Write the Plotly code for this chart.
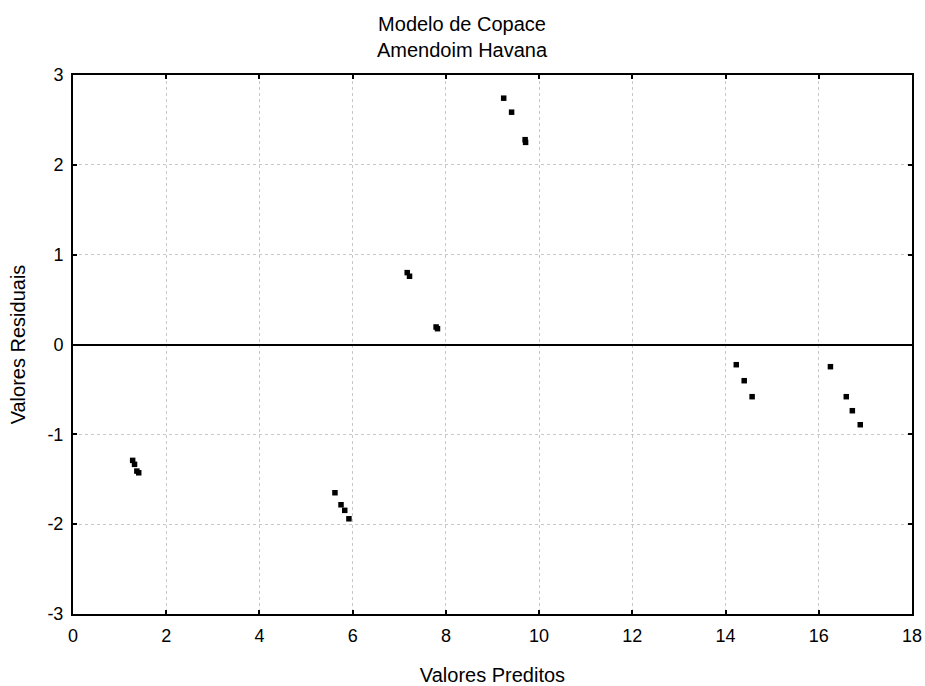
import plotly.graph_objects as go

# Predicted values (x) and residuals (y)
predicted = [1.28, 1.32, 1.37, 1.41,
             5.62, 5.75, 5.83, 5.92,
             7.17, 7.22, 7.79, 7.82,
             9.24, 9.41, 9.70, 9.71,
             14.23, 14.40, 14.57,
             16.25, 16.59, 16.72, 16.89]
residuals = [-1.29, -1.334, -1.409, -1.428,
             -1.65, -1.784, -1.846, -1.94,
             0.80, 0.76, 0.195, 0.176,
             2.742, 2.586, 2.28, 2.25,
             -0.225, -0.403, -0.581,
             -0.247, -0.581, -0.737, -0.893]

x_ticks = [0, 2, 4, 6, 8, 10, 12, 14, 16, 18]
y_ticks = [-3, -2, -1, 0, 1, 2, 3]

title_lines = ["Modelo de Copace", "Amendoim Havana"]
x_title = "Valores Preditos"
y_title = "Valores Residuais"

FONT = "Liberation Sans, Arial, sans-serif"

fig = go.Figure()
fig.add_trace(go.Scatter(
    x=predicted, y=residuals, mode="markers",
    marker=dict(symbol="square", size=5.5, color="black"),
    showlegend=False, hoverinfo="x+y",
))

axis_common = dict(
    showline=True, linecolor="black", linewidth=2, mirror="ticks",
    ticks="inside", ticklen=4, tickwidth=2, tickcolor="black",
    showgrid=True, gridcolor="#c8c8c8", gridwidth=1, griddash="dot",
    tickfont=dict(family=FONT, size=18, color="black"),
    ticklabelstandoff=4, automargin=False,
)

fig.update_xaxes(
    range=[0, 18], tickvals=x_ticks, ticktext=[str(v) for v in x_ticks],
    zeroline=False,
    title=dict(text=x_title, font=dict(family=FONT, size=20, color="black"), standoff=24),
    **axis_common,
)
fig.update_yaxes(
    range=[-3, 3], tickvals=y_ticks, ticktext=[str(v) for v in y_ticks],
    zeroline=True, zerolinecolor="black", zerolinewidth=2,
    title=dict(text=y_title, font=dict(family=FONT, size=20, color="black"), standoff=16),
    **axis_common,
)

fig.add_annotation(
    text="<br>".join(title_lines), showarrow=False,
    xref="paper", yref="paper", x=(462.5 - 73) / (912 - 73), y=1,
    xanchor="center", yanchor="bottom", yshift=12,
    font=dict(family=FONT, size=20, color="black"), align="center",
)

fig.update_layout(
    width=925, height=686,
    margin=dict(l=73, r=13, t=75, b=72),
    paper_bgcolor="white", plot_bgcolor="white",
    font=dict(family=FONT, color="black"),
)

fig.write_html("out.html", config={"displayModeBar": False},
               post_script="document.body.style.margin='0';")
